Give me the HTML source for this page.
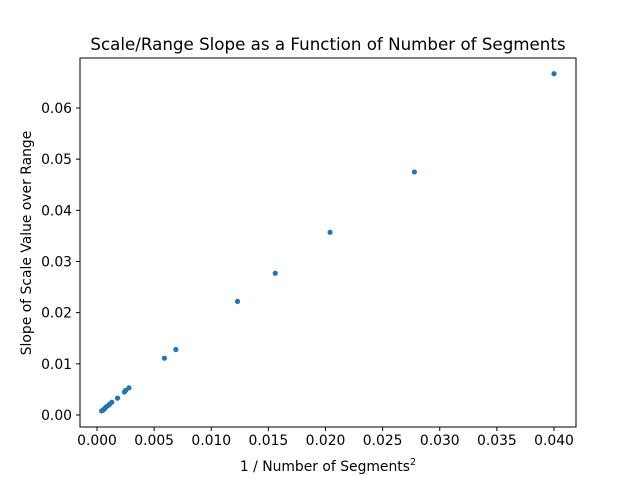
<!DOCTYPE html>
<html><head><meta charset="utf-8"><style>
body{margin:0;background:#fff;font-family:"Liberation Sans","DejaVu Sans",sans-serif}
text{font-family:"DejaVu Sans","Liberation Sans",sans-serif;fill:#000}
</style></head><body>
<svg id="chart" width="640" height="480" xmlns="http://www.w3.org/2000/svg">
<rect width="640" height="480" fill="#fff"/>
<text x="328" y="50" text-anchor="middle" font-size="16.7">Scale/Range Slope as a Function of Number of Segments</text>
<g id="ticks"></g>
<g id="pts"></g>
<rect x="80" y="58" width="496" height="369" fill="none" stroke="#000" stroke-width="1"/>
<text x="328" y="471" text-anchor="middle" font-size="13.9">1 / Number of Segments<tspan dy="-6" font-size="9.7">2</tspan></text>
<text transform="translate(31,243) rotate(-90)" text-anchor="middle" font-size="13.9">Slope of Scale Value over Range</text>
</svg>
<script>
const xs=[0.04,0.02778,0.0204,0.0156,0.0123,0.0069,0.0059,0.0028,0.0025,0.0024,0.0018,0.0013,0.0011,0.0010,0.0008,0.0007,0.0006,0.0005,0.0004];
const ys=[0.0667,0.0475,0.0357,0.0277,0.0222,0.0128,0.0111,0.0053,0.0048,0.0045,0.0033,0.0025,0.0021,0.0019,0.0016,0.0013,0.0011,0.0009,0.0008];
const xTicks=[0,0.005,0.01,0.015,0.02,0.025,0.03,0.035,0.04];
const xLabels=["0.000","0.005","0.010","0.015","0.020","0.025","0.030","0.035","0.040"];
const yTicks=[0,0.01,0.02,0.03,0.04,0.05,0.06];
const yLabels=["0.00","0.01","0.02","0.03","0.04","0.05","0.06"];
const X=v=>97+v/0.04*457, Y=v=>415-v/0.06*307;
const ns="http://www.w3.org/2000/svg";
const tg=document.getElementById('ticks'), pg=document.getElementById('pts');
function mk(tag,a,p){const e=document.createElementNS(ns,tag);for(const k in a)e.setAttribute(k,a[k]);p.appendChild(e);return e;}
xTicks.forEach((t,i)=>{const x=X(t);
 const l=mk('line',{x1:x,x2:x,y1:427,y2:431,stroke:'#000'},tg);
 
 
 const s=mk('text',{x:x,y:445,'text-anchor':'middle','font-size':13.9},tg);s.textContent=xLabels[i];
 
 });
yTicks.forEach((t,i)=>{const y=Y(t);
 const l=mk('line',{x1:76,x2:80,y1:y,y2:y,stroke:'#000'},tg);
 
 
 const s=mk('text',{x:72,y:y+5,'text-anchor':'end','font-size':13.9},tg);s.textContent=yLabels[i];
 
 });
xs.forEach((v,i)=>{const c=mk('circle',{cx:X(v),cy:Y(ys[i]),r:2.6,fill:'#1f77b4'},pg);
 
 });
</script>
</body></html>
